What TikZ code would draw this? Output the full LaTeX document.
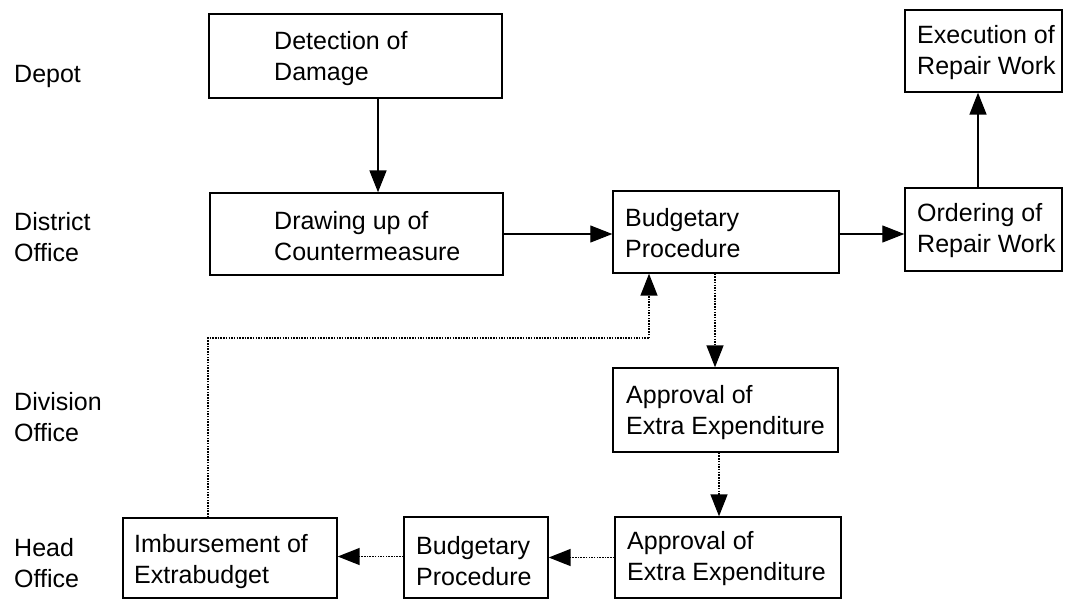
\documentclass[tikz,border=0pt]{standalone}
\usepackage{fontspec}
\setmainfont{Liberation Sans}
\usetikzlibrary{arrows.meta}
\tikzset{
  box/.style={draw=black, line width=1.4pt, rectangle, inner sep=0pt},
  txt/.style={anchor=west, align=left, inner sep=0pt, font=\fontsize{25}{31}\selectfont},
  lbl/.style={anchor=west, align=left, inner sep=0pt, font=\fontsize{25}{31}\selectfont},
  tip/.style={-{Triangle[length=22pt,width=17pt]}},
  arrthick/.style={line width=1.7pt, tip},
  arrthin/.style={line width=1.1pt, tip},
  dotarr/.style={line width=1.5pt, dash pattern=on 1.5pt off 1.2pt, tip},
  dotline/.style={line width=1.5pt, dash pattern=on 1.5pt off 1.2pt}
}
\begin{document}
\begin{tikzpicture}[x=1pt,y=-1pt]
\useasboundingbox[fill=white] (0,0) rectangle (1067,600);

% row labels
\node[lbl] (lDepot) at (14,76) {Depot};
\node[lbl] (lDistrict) at (14,237) {District\\Office};
\node[lbl] (lDivision) at (14,417) {Division\\Office};
\node[lbl] (lHead) at (14,563) {Head\\Office};

% boxes
\node[box, minimum width=293pt, minimum height=84pt] (det) at (355.5,56) {};
\node[txt] (detT) at (274,58.5) {Detection of\\Damage};

\node[box, minimum width=293pt, minimum height=82pt] (drw) at (356.5,234) {};
\node[txt] (drwT) at (274,236) {Drawing up of\\Countermeasure};

\node[box, minimum width=226pt, minimum height=82pt] (bud) at (726,232) {};
\node[txt] (budT) at (625,233) {Budgetary\\Procedure};

\node[box, minimum width=157pt, minimum height=83pt] (ord) at (983.5,229.5) {};
\node[txt] (ordT) at (917,230.5) {Ordering of\\Repair Work};

\node[box, minimum width=157pt, minimum height=82pt] (exe) at (983.5,51) {};
\node[txt] (exeT) at (917,52.5) {Execution of\\Repair Work};

\node[box, minimum width=225pt, minimum height=84pt] (apd) at (725.5,410) {};
\node[txt] (apdT) at (626,412.5) {Approval of\\Extra Expenditure};

\node[box, minimum width=226pt, minimum height=81pt] (aph) at (728,557.5) {};
\node[txt] (aphT) at (627,559) {Approval of\\Extra Expenditure};

\node[box, minimum width=144pt, minimum height=81pt] (bdh) at (476,557.5) {};
\node[txt] (bdhT) at (416,561) {Budgetary\\Procedure};

\node[box, minimum width=214pt, minimum height=80pt] (imb) at (230,558) {};
\node[txt] (imbT) at (134,562) {Imbursement of\\Extrabudget};

% connectors
\draw[arrthick] ([xshift=22.5pt]det.south) -- ([xshift=22.5pt]det.south |- drw.north);
\draw[arrthin] (drw.east) -- (drw.east -| bud.west);
\draw[arrthin] ([yshift=-2pt]bud.east) -- ([yshift=-2pt]bud.east -| ord.west);
\draw[arrthick] ([xshift=-5.5pt]ord.north) -- ([xshift=-5.5pt]ord.north |- exe.south);
\draw[dotarr] ([xshift=-11pt]bud.south) -- ([xshift=-11pt]bud.south |- apd.north);
\draw[dotarr] ([xshift=-6.5pt]apd.south) -- ([xshift=-6.5pt]apd.south |- aph.north);
\draw[dotarr] (aph.west) -- (aph.west -| bdh.east);
\draw[dotarr] ([yshift=1pt]bdh.west) -- ([yshift=1pt]bdh.west -| imb.east);
\coordinate (fb) at (649,338);
\draw[dotline] ([xshift=-22pt]imb.north) |- (fb);
\draw[dotarr] (fb) -- (fb |- bud.south);
\end{tikzpicture}
\end{document}
